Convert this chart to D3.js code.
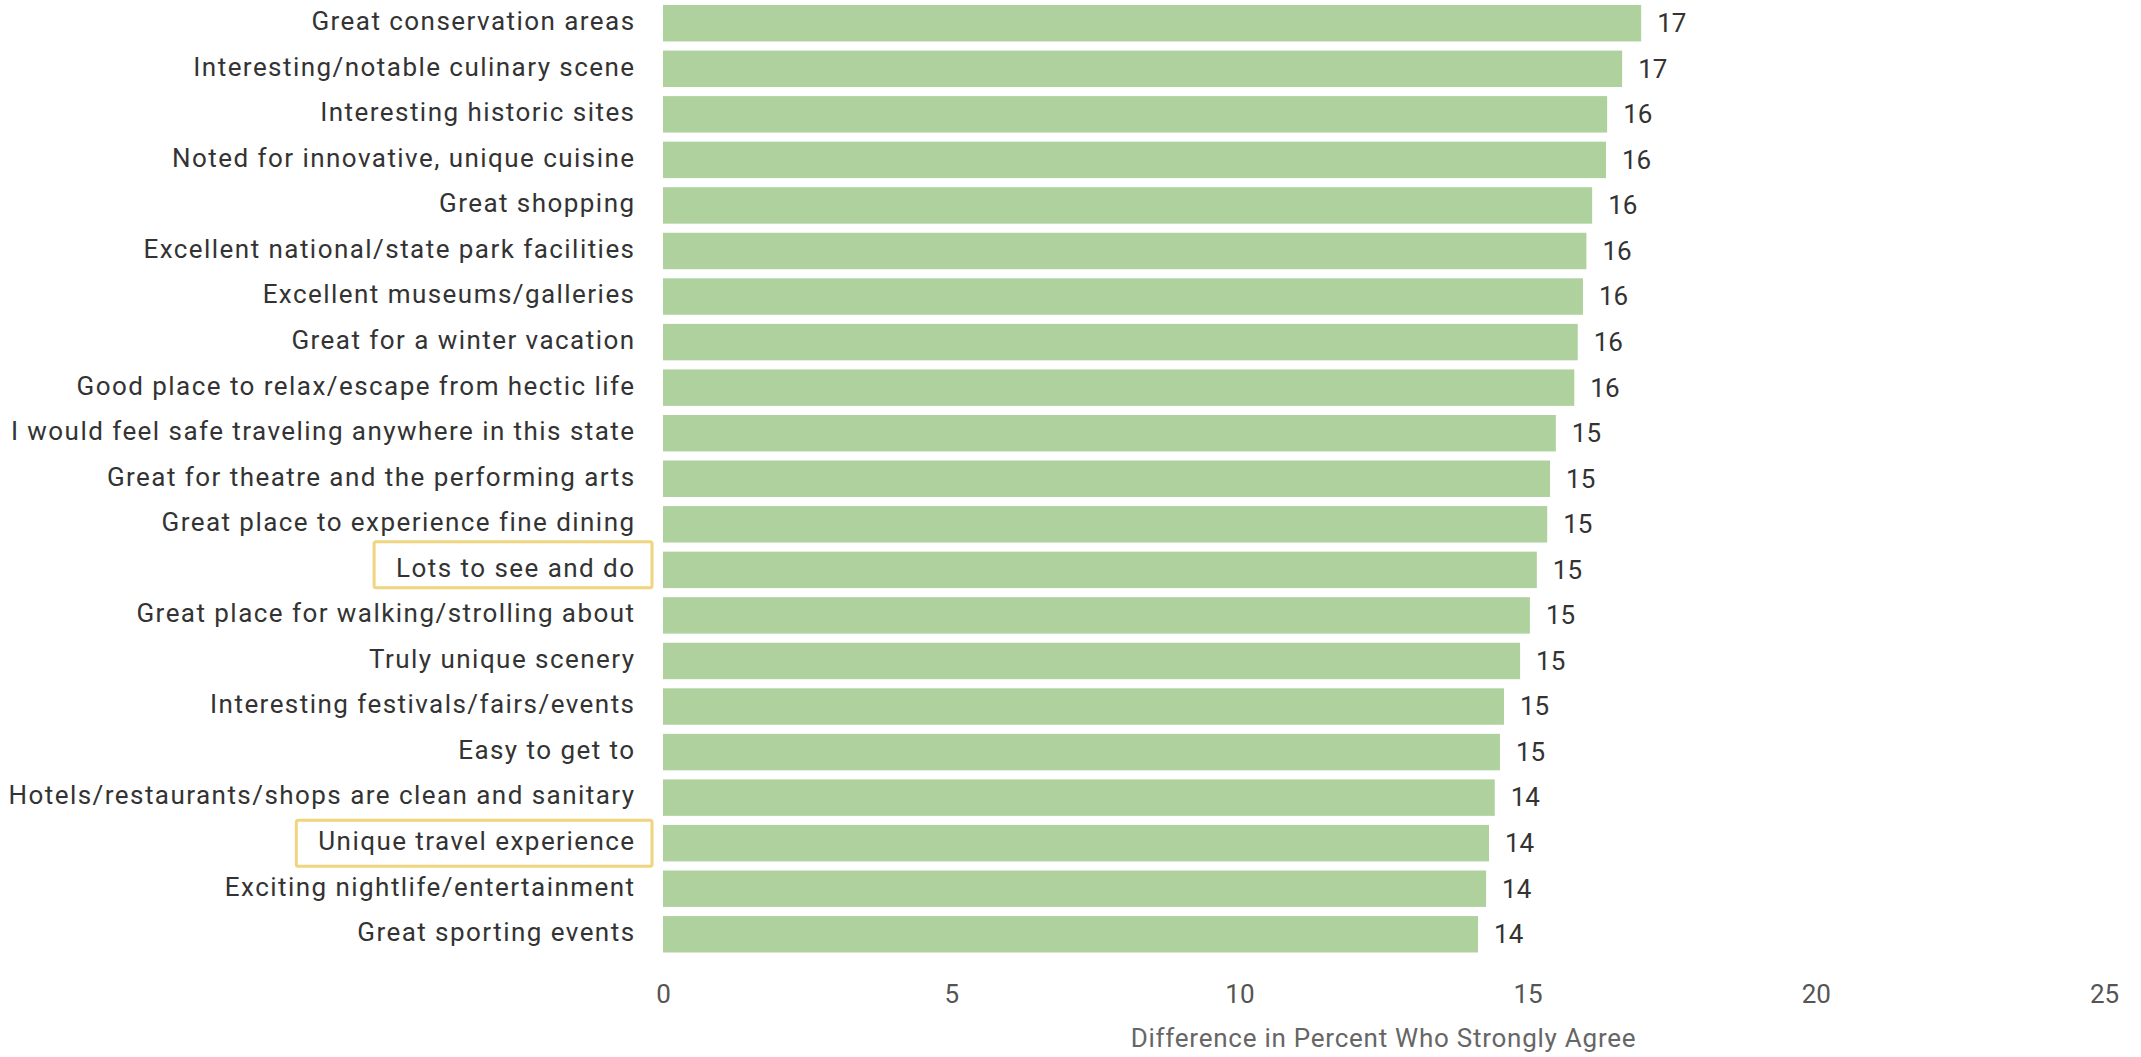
<!DOCTYPE html>
<html>
<head>
<meta charset="utf-8">
<script src="https://cdn.jsdelivr.net/npm/d3@7"></script>
<style>
  html, body { margin: 0; padding: 0; background: #fff; }
  svg { display: block; }
</style>
</head>
<body>
<svg id="chart" width="2141" height="1057"></svg>
<script>
const categories = [
  "Great conservation areas",
  "Interesting/notable culinary scene",
  "Interesting historic sites",
  "Noted for innovative, unique cuisine",
  "Great shopping",
  "Excellent national/state park facilities",
  "Excellent museums/galleries",
  "Great for a winter vacation",
  "Good place to relax/escape from hectic life",
  "I would feel safe traveling anywhere in this state",
  "Great for theatre and the performing arts",
  "Great place to experience fine dining",
  "Lots to see and do",
  "Great place for walking/strolling about",
  "Truly unique scenery",
  "Interesting festivals/fairs/events",
  "Easy to get to",
  "Hotels/restaurants/shops are clean and sanitary",
  "Unique travel experience",
  "Exciting nightlife/entertainment",
  "Great sporting events"
];
const values = [16.97, 16.64, 16.38, 16.36, 16.12, 16.02, 15.96, 15.87, 15.81, 15.49,
                15.39, 15.34, 15.16, 15.04, 14.87, 14.59, 14.52, 14.43, 14.33, 14.28, 14.14];
const highlighted = ["Lots to see and do", "Unique travel experience"];
const xTicks = [0, 5, 10, 15, 20, 25];
const xTitle = "Difference in Percent Who Strongly Agree";

const data = categories.map((c, i) => ({ name: c, value: values[i] }));

const svg = d3.select("#chart");
const FONT = "Roboto, 'Noto Sans', sans-serif";
const x0 = 663, x1 = 2104;

const x = d3.scaleLinear().domain([0, 25]).range([x0, x1]);
const y = d3.scaleBand().domain(categories).range([0, 957.5]).paddingInner(0.2).paddingOuter(0.11);

// bars
svg.append("g").selectAll("rect").data(data).join("rect")
  .attr("x", x(0))
  .attr("y", d => y(d.name))
  .attr("width", d => x(d.value) - x(0))
  .attr("height", y.bandwidth())
  .attr("fill", "#afd19e");

// value labels
svg.append("g").selectAll("text").data(data).join("text")
  .attr("x", d => x(d.value) + 16)
  .attr("y", d => y(d.name) + y.bandwidth() / 2 + 2)
  .attr("dominant-baseline", "middle")
  .attr("font-family", FONT)
  .attr("font-size", 26)
  .attr("fill", "#333")
  .text(d => Math.round(d.value));

// category labels
const labels = svg.append("g").selectAll("text").data(data).join("text")
  .attr("x", 635.5)
  .attr("y", d => y(d.name) + y.bandwidth() / 2)
  .attr("dominant-baseline", "middle")
  .attr("text-anchor", "end")
  .attr("font-family", FONT)
  .attr("font-size", 26)
  .attr("letter-spacing", "1.45px")
  .attr("fill", "#333")
  .text(d => d.name);

// highlight boxes
const boxShift = { "Lots to see and do": -5 };
labels.filter(d => highlighted.includes(d.name)).each(function(d) {
  const bb = this.getBBox();
  const left = bb.x - 22;
  svg.append("rect")
    .attr("x", left)
    .attr("y", y(d.name) + y.bandwidth() / 2 - 23 + (boxShift[d.name] || 0))
    .attr("width", 652 - left)
    .attr("height", 46)
    .attr("rx", 2)
    .attr("fill", "none")
    .attr("stroke", "#f0d47e")
    .attr("stroke-width", 3);
});

// x axis
const axis = d3.axisBottom(x).tickValues(xTicks).tickSize(0).tickPadding(0).tickFormat(d3.format("d"));
const gx = svg.append("g").attr("transform", "translate(0,985)").call(axis);
gx.select(".domain").remove();
gx.selectAll("text")
  .attr("font-family", FONT)
  .attr("font-size", 26)
  .attr("fill", "#555");

svg.append("text")
  .attr("x", (x0 + x1) / 2)
  .attr("y", 1040)
  .attr("dominant-baseline", "middle")
  .attr("text-anchor", "middle")
  .attr("font-family", FONT)
  .attr("font-size", 26)
  .attr("letter-spacing", "0.75px")
  .attr("fill", "#666")
  .text(xTitle);
</script>
</body>
</html>
